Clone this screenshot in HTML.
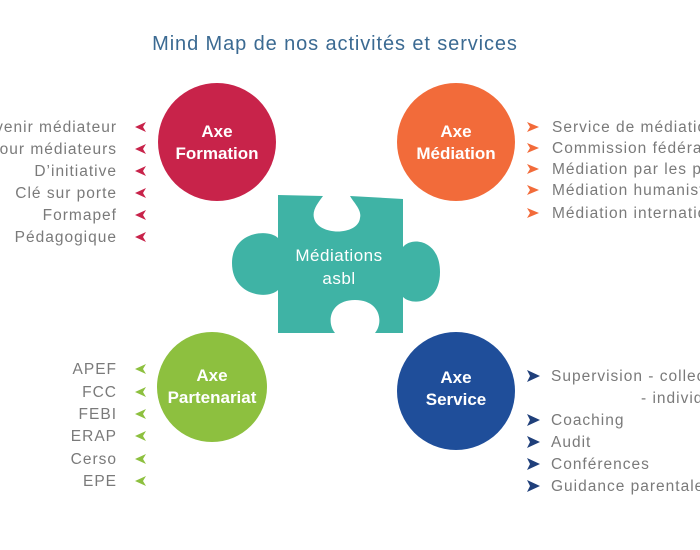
<!DOCTYPE html>
<html><head><meta charset="utf-8"><style>
html,body{margin:0;padding:0;background:#fff;width:700px;height:550px;overflow:hidden}
svg{display:block}
text{font-family:"Liberation Sans",sans-serif}
.l{font-size:15.5px;fill:#7a7a7a;letter-spacing:1px}
.c{font-size:17px;fill:#fff;font-weight:bold}
</style></head><body>
<svg width="700" height="550" viewBox="0 0 700 550">
<text x="335" y="50" text-anchor="middle" font-size="20" fill="#3b6a92" letter-spacing="0.9">Mind Map de nos activités et services</text>

<path d="M278,195 L323,196 C318,203 312,210 314,218 C318,236 358,236 360,218 C362,210 354,203 350,196 L403,199 L403,247 C412,236 440,240 440,272 C440,304 412,306 403,297 L403,333 L375,333 C384,322 380,300 355,300 C330,300 326,322 335,333 L278,333 L278,290 C268,300 232,296 232,263 C232,232 268,228 278,238 Z" fill="#3fb3a5"/>
<text x="339" y="261" text-anchor="middle" font-size="17" fill="#fff" letter-spacing="0.5">Médiations</text>
<text x="339" y="284" text-anchor="middle" font-size="17" fill="#fff" letter-spacing="0.5">asbl</text>

<circle cx="217" cy="142" r="59" fill="#c8234a"/>
<text class="c" x="217" y="137" text-anchor="middle">Axe</text>
<text class="c" x="217" y="159" text-anchor="middle">Formation</text>

<circle cx="456" cy="142" r="59" fill="#f26b3a"/>
<text class="c" x="456" y="137" text-anchor="middle">Axe</text>
<text class="c" x="456" y="159" text-anchor="middle">Médiation</text>

<circle cx="212" cy="387" r="55" fill="#8dc03f"/>
<text class="c" x="212" y="381" text-anchor="middle">Axe</text>
<text class="c" x="212" y="403" text-anchor="middle">Partenariat</text>

<circle cx="456" cy="391" r="59" fill="#1f4e9a"/>
<text class="c" x="456" y="383" text-anchor="middle">Axe</text>
<text class="c" x="456" y="405" text-anchor="middle">Service</text>

<g class="l" text-anchor="end">
<text x="117" y="132">Devenir médiateur</text>
<text x="117" y="154">Pour médiateurs</text>
<text x="117" y="176">D’initiative</text>
<text x="117" y="198">Clé sur porte</text>
<text x="117" y="220">Formapef</text>
<text x="117" y="242">Pédagogique</text>
<text x="117" y="374">APEF</text>
<text x="117" y="397">FCC</text>
<text x="117" y="419">FEBI</text>
<text x="117" y="441">ERAP</text>
<text x="117" y="464">Cerso</text>
<text x="117" y="486">EPE</text>
</g>
<g fill="#c8234a">
<path d="M135,127 l11,-5 l-3,5 l3,5z"/><path d="M135,149 l11,-5 l-3,5 l3,5z"/><path d="M135,171 l11,-5 l-3,5 l3,5z"/><path d="M135,193 l11,-5 l-3,5 l3,5z"/><path d="M135,215 l11,-5 l-3,5 l3,5z"/><path d="M135,237 l11,-5 l-3,5 l3,5z"/>
</g>
<g fill="#8dc03f">
<path d="M135,369 l11,-5 l-3,5 l3,5z"/><path d="M135,392 l11,-5 l-3,5 l3,5z"/><path d="M135,414 l11,-5 l-3,5 l3,5z"/><path d="M135,436 l11,-5 l-3,5 l3,5z"/><path d="M135,459 l11,-5 l-3,5 l3,5z"/><path d="M135,481 l11,-5 l-3,5 l3,5z"/>
</g>
<g class="l">
<text x="552" y="132">Service de médiation</text>
<text x="552" y="153">Commission fédérale</text>
<text x="552" y="174">Médiation par les pairs</text>
<text x="552" y="195">Médiation humaniste</text>
<text x="552" y="218">Médiation internationale</text>
<text x="551" y="381">Supervision - collective</text>
<text x="641" y="403">- individuelle</text>
<text x="551" y="425">Coaching</text>
<text x="551" y="447">Audit</text>
<text x="551" y="469">Conférences</text>
<text x="551" y="491">Guidance parentale</text>
</g>
<g fill="#f26b3a">
<path d="M539,127 l-12,-5 l3,5 l-3,5z"/><path d="M539,148 l-12,-5 l3,5 l-3,5z"/><path d="M539,169 l-12,-5 l3,5 l-3,5z"/><path d="M539,190 l-12,-5 l3,5 l-3,5z"/><path d="M539,213 l-12,-5 l3,5 l-3,5z"/>
</g>
<g fill="#1f3f7a">
<path d="M540,376 l-13,-6 l3,6 l-3,6z"/><path d="M540,420 l-13,-6 l3,6 l-3,6z"/><path d="M540,442 l-13,-6 l3,6 l-3,6z"/><path d="M540,464 l-13,-6 l3,6 l-3,6z"/><path d="M540,486 l-13,-6 l3,6 l-3,6z"/>
</g>
</svg>
</body></html>
